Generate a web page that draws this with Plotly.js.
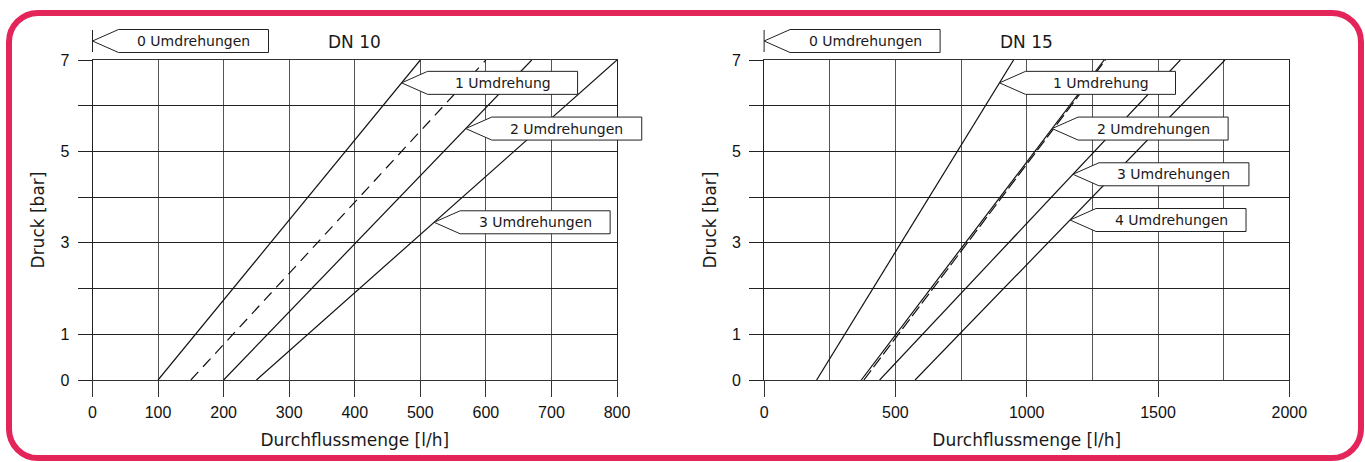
<!DOCTYPE html>
<html><head><meta charset="utf-8">
<script src="https://cdn.plot.ly/plotly-3.0.1.min.js"></script>
<style>
html,body{margin:0;padding:0;background:#fff;}
#wrap{position:relative;width:1365px;height:462px;overflow:hidden;}
#chart{position:absolute;left:0;top:0;width:1365px;height:462px;}
#frame{position:absolute;left:6px;top:10px;width:1358px;height:451px;box-sizing:border-box;border:6px solid #e3255a;border-radius:32px;pointer-events:none;}
</style></head>
<body><div id="wrap"><div id="chart"></div><div id="frame"></div></div>
<script>
// ---- data ----
const pressure = [0, 7];                 // Druck [bar] at start / end of each line
// DN 10 : Durchflussmenge [l/h]
const dn10_1U  = [100, 500];
const dn10_15U = [150, 600];             // dashed line
const dn10_2U  = [200, 670];
const dn10_3U  = [250, 800];
// DN 15 : Durchflussmenge [l/h]
const dn15_1U  = [200, 950];
const dn15_2U  = [370, 1295];
const dn15_2Ud = [380, 1300];            // dashed line
const dn15_3U  = [440, 1585];
const dn15_4U  = [575, 1755];

const titles = ['DN 10', 'DN 15'];
const zeroLabel = '0 Umdrehungen';
const dn10Labels = ['1 Umdrehung', '2 Umdrehungen', '3 Umdrehungen'];
const dn10LabelP = [6.5, 5.5, 3.45];
const dn15Labels = ['1 Umdrehung', '2 Umdrehungen', '3 Umdrehungen', '4 Umdrehungen'];
const dn15LabelP = [6.5, 5.5, 4.5, 3.5];

const yTickVals = [0, 1, 2, 3, 4, 5, 6, 7];
const yTickText = ['0', '1', '', '3', '', '5', '', '7'];
const xTitle = 'Durchflussmenge [l/h]';
const yTitle = 'Druck [bar]';
const dn10Range = [0, 800];
const dn15Range = [0, 2000];
const pRange = [0, 7];

// ---- build ----
const solid = {color: '#111', width: 1.2};
const dashed = {color: '#111', width: 1.2, dash: '11px,7px'};
function tr(x, y, xa, ya, line) {
  return {x: x, y: y, xaxis: xa, yaxis: ya, mode: 'lines', line: line, hoverinfo: 'skip', showlegend: false};
}
const data = [
  tr(dn10_1U, pressure, 'x', 'y', solid),
  tr(dn10_15U, pressure, 'x', 'y', dashed),
  tr(dn10_2U, pressure, 'x', 'y', solid),
  tr(dn10_3U, pressure, 'x', 'y', solid),
  tr(dn15_1U, pressure, 'x2', 'y2', solid),
  tr(dn15_2Ud, pressure, 'x2', 'y2', {color: '#111', width: 1.2, dash: '12px,4px'}),
  tr(dn15_2U, pressure, 'x2', 'y2', solid),
  tr(dn15_3U, pressure, 'x2', 'y2', solid),
  tr(dn15_4U, pressure, 'x2', 'y2', solid)
];

const tickFont = {family: 'Liberation Sans, Arial, sans-serif', size: 16, color: '#111'};
const titleFont = {family: 'DejaVu Sans, sans-serif', size: 17, color: '#1a1a1a'};
const labelFont = {family: 'DejaVu Sans, sans-serif', size: 14, color: '#1a1a1a'};

function xAxis(domain, range, dtick, minor) {
  const a = {domain: domain, range: range, dtick: dtick, tick0: 0, ticks: 'outside', ticklen: 16,
    tickcolor: '#333', tickwidth: 1, showgrid: true, gridcolor: '#555', gridwidth: 1,
    showline: true, mirror: true, linecolor: '#333', linewidth: 1, zeroline: false,
    tickfont: tickFont, ticklabelstandoff: 2, fixedrange: true,
    title: {text: xTitle, font: titleFont, standoff: 13}};
  if (minor) a.minor = {dtick: minor, tick0: 0, showgrid: true, gridcolor: '#555', gridwidth: 1, ticks: ''};
  return a;
}
function yAxis(domain, anchor) {
  return {domain: domain, range: pRange, anchor: anchor, tickmode: 'array', tickvals: yTickVals, ticktext: yTickText,
    ticks: 'outside', ticklen: 14, tickcolor: '#222', tickwidth: 1, showgrid: true, gridcolor: '#222', gridwidth: 1,
    showline: true, mirror: true, linecolor: '#222', linewidth: 1, zeroline: false,
    tickfont: tickFont, ticklabelstandoff: 5, fixedrange: true,
    title: {text: yTitle, font: titleFont, standoff: 11}};
}

const W = 1365, H = 462;
const yDom = [1 - 380 / H, 1 - 60 / H];
const layout = {
  width: W, height: H, margin: {l: 0, r: 0, t: 0, b: 0},
  paper_bgcolor: 'rgba(0,0,0,0)', plot_bgcolor: 'rgba(0,0,0,0)',
  xaxis: xAxis([92.5 / W, 617 / W], dn10Range, 100, null),
  yaxis: yAxis(yDom, 'x'),
  xaxis2: Object.assign(xAxis([764.1 / W, 1289.3 / W], dn15Range, 500, 250), {anchor: 'y2'}),
  yaxis2: yAxis(yDom, 'x2'),
  shapes: [], annotations: []
};
layout.xaxis.anchor = 'y';

function callout(xr, yr, fx, fy, dy, bar) {
  let p = `M0,${dy} L26,${dy + 11.5} L176,${dy + 11.5} L176,${dy - 11.5} L26,${dy - 11.5} Z`;
  if (bar) p += ` M0,${dy + 11} L0,${dy - 11}`;
  return {type: 'path', xref: xr, yref: yr, xsizemode: 'pixel', ysizemode: 'pixel',
    xanchor: fx, yanchor: fy, path: p, line: {color: '#222', width: 1}, fillcolor: '#ffffff', layer: 'above'};
}
function label(xr, yr, fx, fy, dy, text) {
  return {xref: xr, yref: yr, x: fx, y: fy, xanchor: 'center', yanchor: 'middle', xshift: 101, yshift: dy,
    text: text, showarrow: false, font: labelFont};
}
function xAt(line, p) { return line[0] + (line[1] - line[0]) * (p - pressure[0]) / (pressure[1] - pressure[0]); }

const panels = [
  {xr: 'x domain', yr: 'y domain', range: dn10Range, lines: [dn10_1U, dn10_2U, dn10_3U], labels: dn10Labels, lp: dn10LabelP, title: titles[0]},
  {xr: 'x2 domain', yr: 'y2 domain', range: dn15Range, lines: [dn15_1U, dn15_2U, dn15_3U, dn15_4U], labels: dn15Labels, lp: dn15LabelP, title: titles[1]}
];
panels.forEach(pn => {
  // 0 Umdrehungen callout above the y axis
  layout.shapes.push(callout(pn.xr, pn.yr, 0, 1, 19, true));
  layout.annotations.push(label(pn.xr, pn.yr, 0, 1, 19, zeroLabel));
  pn.labels.forEach((t, i) => {
    const fx = (xAt(pn.lines[i], pn.lp[i]) - pn.range[0]) / (pn.range[1] - pn.range[0]);
    const fy = (pn.lp[i] - pRange[0]) / (pRange[1] - pRange[0]);
    layout.shapes.push(callout(pn.xr, pn.yr, fx, fy, 0, false));
    layout.annotations.push(label(pn.xr, pn.yr, fx, fy, 0, t));
  });
  layout.annotations.push({xref: pn.xr, yref: pn.yr, x: 0.5, y: 1, yshift: 18, xanchor: 'center', yanchor: 'middle',
    text: pn.title, showarrow: false, font: {family: 'DejaVu Sans, sans-serif', size: 17, color: '#1a1a1a'}});
});

Plotly.newPlot('chart', data, layout, {displayModeBar: false, staticPlot: true});
</script></body></html>
